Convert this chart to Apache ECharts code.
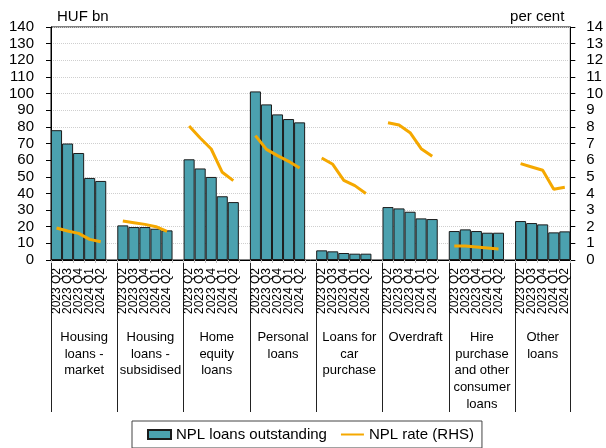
<!DOCTYPE html>
<html><head><meta charset="utf-8">
<script src="https://cdn.jsdelivr.net/npm/echarts@6/dist/echarts.min.js"></script>
<style>html,body{margin:0;padding:0;background:#fff}#c{width:606px;height:448px}</style>
</head><body><div id="c"></div>
<script>
const quarters = ['2023 Q2','2023 Q3','2023 Q4','2024 Q1','2024 Q2'];
const groups = ['Housing\nloans -\nmarket','Housing\nloans -\nsubsidised','Home\nequity\nloans','Personal\nloans','Loans for\ncar\npurchase','Overdraft','Hire\npurchase\nand other\nconsumer\nloans','Other\nloans'];
const nplLoans = [
  [78,70,64.3,49.3,47.5],
  [20.8,19.8,19.8,18.8,17.8],
  [60.5,55,49.9,38.3,34.8],
  [101.3,93.5,87.5,84.7,82.7],
  [5.8,5.2,4.2,3.8,3.8],
  [31.8,31,29,25,24.6],
  [17.4,18.4,17.4,16.4,16.4],
  [23.4,22.2,21.4,16.6,17.2]
];
const nplRate = [
  [1.92,1.74,1.6,1.24,1.1],
  [2.34,2.24,2.14,2.0,1.72],
  [8.05,7.33,6.67,5.27,4.77],
  [7.47,6.65,6.27,5.93,5.53],
  [6.13,5.75,4.79,4.47,4.0],
  [8.25,8.11,7.65,6.69,6.23],
  [0.84,0.84,0.78,0.72,0.66],
  [5.79,5.59,5.39,4.25,4.37]
];
const leftTicks = {min:0, max:140, interval:10};
const rightTicks = {min:0, max:14, interval:1};

// build category slots: 5 quarters per group plus an empty slot between groups
const cats = [], barData = [], lineData = [];
groups.forEach((g, gi) => {
  quarters.forEach((q, qi) => {
    cats.push(q);
    barData.push(nplLoans[gi][qi]);
    lineData.push(nplRate[gi][qi]);
  });
  if (gi < groups.length - 1) { cats.push(''); barData.push(null); lineData.push(null); }
});
// half-slot boundary points for centred group labels
const nPts = cats.length * 2 + 1;
const groupPts = new Array(nPts).fill('');
let slot = 0;
groups.forEach((g, gi) => {
  const width = gi < groups.length - 1 ? 6 : 5;
  groupPts[slot * 2 + width] = g;
  slot += width;
});

const font = 'Liberation Sans';
const chart = echarts.init(document.getElementById('c'), null, {renderer:'canvas'});
chart.setOption({
  animation: false,
  backgroundColor: '#fff',
  textStyle: {fontFamily: font, color: '#000'},
  grid: {left: 51, right: 29, top: 27, bottom: 188, show: true, borderColor: '#000', borderWidth: 1, backgroundColor: 'transparent'},
  legend: {
    left: 132, top: 421, padding: [6, 8, 6, 15], itemGap: 13,
    borderColor: '#444', borderWidth: 1,
    itemWidth: 23, itemHeight: 9,
    textStyle: {fontFamily: font, fontSize: 15, color: '#000'},
    data: [
      {name: 'NPL loans outstanding', icon: 'rect'},
      {name: 'NPL rate (RHS)', itemStyle: {opacity: 0, color: 'transparent', borderColor: 'transparent'}}
    ]
  },
  xAxis: [
    {
      type: 'category', data: cats, boundaryGap: true,
      axisLine: {show: true, lineStyle: {color: '#000', width: 1}},
      axisTick: {show: true, length: 152, interval: (i) => i % 6 === 0, lineStyle: {color: '#222', width: 1}},
      axisLabel: {interval: 0, rotate: 90, margin: 8, fontSize: 12, fontFamily: font, color: '#000'},
      splitLine: {show: false}
    },
    {
      type: 'category', data: cats, boundaryGap: true, position: 'bottom', offset: 0,
      axisLine: {show: false},
      axisTick: {show: true, length: 3, interval: 0, lineStyle: {color: '#bbb'}},
      axisLabel: {show: false}, splitLine: {show: false}
    },
    {
      type: 'category', data: groupPts, boundaryGap: false, position: 'bottom', offset: 0,
      axisLine: {show: false}, axisTick: {show: false}, splitLine: {show: false},
      axisLabel: {interval: 0, margin: 69, fontSize: 13, lineHeight: 16.7, fontFamily: font, color: '#000', align: 'center', verticalAlign: 'top'}
    }
  ],
  yAxis: [
    {
      type: 'value', min: leftTicks.min, max: leftTicks.max, interval: leftTicks.interval,
      name: 'HUF bn', nameLocation: 'end', nameGap: 3,
      nameTextStyle: {fontSize: 15, fontFamily: font, color: '#000', align: 'left', verticalAlign: 'bottom', padding: [0, 0, 0, 6]},
      axisLine: {show: true, lineStyle: {color: '#000'}},
      axisTick: {show: true, length: 5, lineStyle: {color: '#000'}},
      axisLabel: {fontSize: 15, margin: 17, color: '#000', fontFamily: font},
      splitLine: {show: true, lineStyle: {color: '#cfcfcf', type: [1, 1], width: 1}}
    },
    {
      type: 'value', min: rightTicks.min, max: rightTicks.max, interval: rightTicks.interval,
      name: 'per cent', nameLocation: 'end', nameGap: 3,
      nameTextStyle: {fontSize: 15, fontFamily: font, color: '#000', align: 'right', verticalAlign: 'bottom', padding: [0, 6, 0, 0]},
      axisLine: {show: true, lineStyle: {color: '#000'}},
      axisTick: {show: true, length: 5, lineStyle: {color: '#000'}},
      axisLabel: {fontSize: 15, margin: 16, color: '#000', fontFamily: font},
      splitLine: {show: false}
    }
  ],
  series: [
    {
      name: 'NPL loans outstanding', type: 'bar', xAxisIndex: 0, yAxisIndex: 0,
      data: barData, barCategoryGap: '0%',
      itemStyle: {color: '#4BA1AF', borderColor: '#1b1b1b', borderWidth: 1}
    },
    {
      name: 'NPL rate (RHS)', type: 'line', xAxisIndex: 0, yAxisIndex: 1,
      data: lineData, symbol: 'none', connectNulls: false,
      lineStyle: {color: '#F5A800', width: 3}, itemStyle: {color: '#F5A800'}
    }
  ]
});
</script></body></html>
